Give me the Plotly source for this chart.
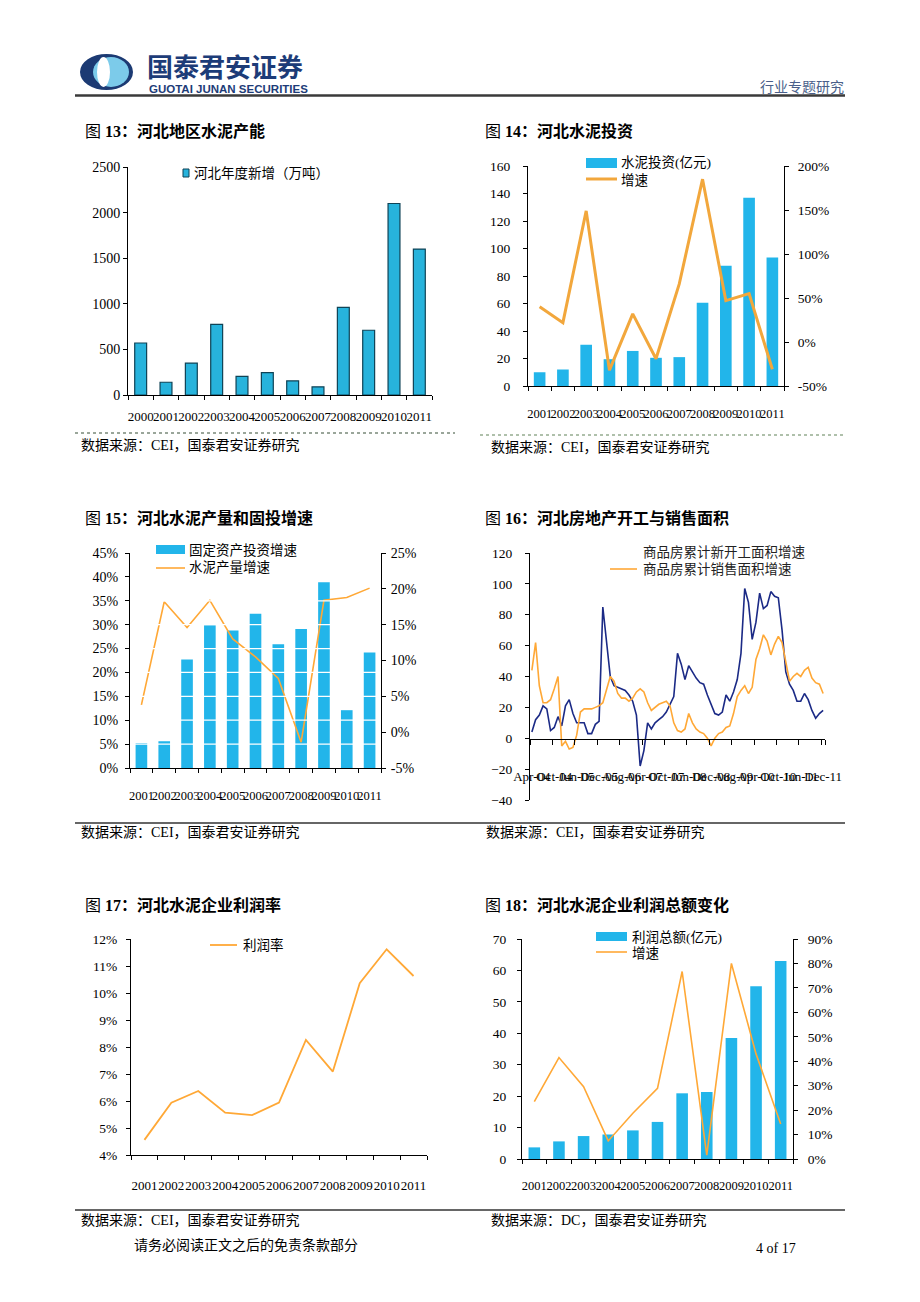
import plotly.graph_objects as go

# The page body keeps its default 8px margin, so the figure is sized to fit the
# 920x1302 window exactly and page coordinates are shifted by that margin.
OFF = 8
W, H = 920 - OFF, 1302 - OFF
SERIF = "Liberation Serif, Noto Sans CJK SC, serif"
CJK = "Noto Sans CJK SC, sans-serif"

def px(x):
    return (x - OFF) / W

def py(y):
    return 1 - (y - OFF) / H

# ---------------- data ----------------
years13 = ["2000", "2001", "2002", "2003", "2004", "2005", "2006", "2007", "2008", "2009", "2010", "2011"]
cap13 = [570, 140, 350, 775, 205, 245, 155, 90, 960, 710, 2100, 1600]

years11 = ["2001", "2002", "2003", "2004", "2005", "2006", "2007", "2008", "2009", "2010", "2011"]
inv14 = [10, 12, 30, 19.5, 25.5, 20.5, 21, 60.5, 87.5, 137, 93.5]
inv14_growth = [0.40, 0.22, 1.49, -0.32, 0.32, -0.19, 0.66, 1.85, 0.47, 0.55, -0.31]

fai15 = [0.052, 0.056, 0.227, 0.299, 0.288, 0.323, 0.259, 0.291, 0.389, 0.121, 0.242]
cement15 = [0.038, 0.182, 0.146, 0.184, 0.130, 0.105, 0.075, -0.014, 0.184, 0.188, 0.201]

month_names = ["Mar", "Apr", "May", "Jun", "Jul", "Aug", "Sep", "Oct", "Nov", "Dec"]
months16 = []
for yr in range(2004, 2012):
    for m in month_names:
        if yr == 2004 and m == "Mar":
            continue
        months16.append(f"{m}-{str(yr)[2:]}")
starts16 = [4, 12, 15, 21, 19, 5, 7, 14, 8, 21,
            25, 16, 10, 10, 10, 3, 3, 9, 11, 85,
            62, 40, 34, 33, 32, 31, 28, 24, 15, -18,
            -8, 10, 6, 10, 12, 14, 17, 22, 27, 55,
            48, 38, 47, 43, 39, 36, 35, 28, 22, 16,
            15, 17, 28, 24, 30, 38, 55, 97, 88, 64,
            75, 94, 84, 86, 95, 92, 91, 70, 43, 35,
            31, 24, 24, 29, 25, 18, 13, 16, 18]
sales16 = [44, 62, 34, 23, 23, 25, 32, 40, -5, -2,
           -7, -6, 2, 17, 19, 19, 19, 20, 21, 23,
           32, 40, 37, 29, 26, 26, 24, 26, 30, 32,
           30, 23, 18, 20, 22, 23, 24, 21, 10, 5,
           4, 6, 16, 10, 6, 4, 3, 0, -5, 0,
           3, 4, 7, 8, 16, 27, 31, 34, 29, 33,
           51, 58, 67, 63, 54, 61, 66, 62, 50, 37,
           40, 42, 40, 44, 46, 39, 36, 35, 29]

margin17 = [0.0456, 0.0594, 0.0637, 0.0557, 0.0548, 0.0594, 0.0826, 0.0709, 0.1036, 0.1162, 0.1063]

profit18 = [3.7, 5.6, 7.3, 7.8, 9.1, 11.8, 20.9, 21.3, 38.5, 55, 63]
profit18_growth = [0.235, 0.415, 0.296, 0.074, 0.187, 0.289, 0.767, 0.016, 0.80, 0.43, 0.143]

pct_ticks_14 = [-0.5, 0, 0.5, 1.0, 1.5, 2.0]
pct_text_14 = ["-50%", "0%", "50%", "100%", "150%", "200%"]
pct_ticks_15r = [-0.05, 0, 0.05, 0.10, 0.15, 0.20, 0.25]
pct_text_15r = ["-5%", "0%", "5%", "10%", "15%", "20%", "25%"]

BAR = "#22B5EA"
ORANGE = "#FFA836"
NAVY = "#1B2A86"

fig = go.Figure()

# chart 13
fig.add_trace(go.Bar(x=years13, y=cap13, xaxis="x", yaxis="y", width=0.47,
                     marker=dict(color="#27B3DC", line=dict(color="#0F4356", width=1.2)),
                     showlegend=False))
# chart 14
fig.add_trace(go.Bar(x=years11, y=inv14, xaxis="x2", yaxis="y2", width=0.5,
                     marker=dict(color=BAR, line=dict(width=0)), showlegend=False))
fig.add_trace(go.Scatter(x=years11, y=inv14_growth, xaxis="x2", yaxis="y3", mode="lines",
                         line=dict(color="#F2A73C", width=3), showlegend=False))
# chart 15
fig.add_trace(go.Bar(x=years11, y=fai15, xaxis="x3", yaxis="y4", width=0.51,
                     marker=dict(color=BAR, line=dict(width=0)), showlegend=False))
fig.add_trace(go.Scatter(x=years11, y=cement15, xaxis="x3", yaxis="y5", mode="lines",
                         line=dict(color=ORANGE, width=1.6), showlegend=False))
# chart 16
fig.add_trace(go.Scatter(x=months16, y=starts16, xaxis="x4", yaxis="y6", mode="lines",
                         line=dict(color=NAVY, width=1.6), showlegend=False))
fig.add_trace(go.Scatter(x=months16, y=sales16, xaxis="x4", yaxis="y6", mode="lines",
                         line=dict(color=ORANGE, width=1.6), showlegend=False))
# chart 17
fig.add_trace(go.Scatter(x=years11, y=margin17, xaxis="x5", yaxis="y7", mode="lines",
                         line=dict(color=ORANGE, width=1.8), showlegend=False))
# chart 18
fig.add_trace(go.Bar(x=years11, y=profit18, xaxis="x6", yaxis="y8", width=0.47,
                     marker=dict(color=BAR, line=dict(width=0)), showlegend=False))
fig.add_trace(go.Scatter(x=years11, y=profit18_growth, xaxis="x6", yaxis="y9", mode="lines",
                         line=dict(color=ORANGE, width=1.6), showlegend=False))


def ax(**kw):
    base = dict(showline=True, linecolor="black", linewidth=1, ticks="outside", ticklen=4,
                tickcolor="black", showgrid=False, zeroline=False, fixedrange=True, automargin=False,
                tickfont=dict(family=SERIF, size=13.5, color="black"))
    base.update(kw)
    return base


def xcat(domain, anchor, n, standoff, size=12.5, **kw):
    return ax(domain=[px(domain[0]), px(domain[1])], anchor=anchor, type="category",
              tickson="boundaries", tickangle=0, range=[-0.5, n - 0.5],
              ticklabelstandoff=standoff, tickfont=dict(family=SERIF, size=size, color="black"), **kw)


layout = dict(
    template="none",
    width=W, height=H, margin=dict(l=0, r=0, t=0, b=0, pad=0), autosize=False,
    paper_bgcolor="white", plot_bgcolor="rgba(0,0,0,0)", showlegend=False, bargap=0.5,
    # chart 13
    xaxis=xcat((128, 432), "y", 12, 9, size=13),
    yaxis=ax(domain=[py(395), py(167)], anchor="x", range=[0, 2500], dtick=500,
             tickfont=dict(family=SERIF, size=14, color="black")),
    # chart 14
    xaxis2=xcat((528, 784), "y2", 11, 16),
    yaxis2=ax(domain=[py(386), py(166)], anchor="x2", range=[0, 160], dtick=20, ticklabelstandoff=10),
    yaxis3=ax(overlaying="y2", side="right", anchor="x2", range=[-0.5, 2.0],
              tickvals=pct_ticks_14, ticktext=pct_text_14, ticklabelstandoff=6),
    # chart 15
    xaxis3=xcat((130, 381), "y4", 11, 16),
    yaxis4=ax(domain=[py(768), py(553)], anchor="x3", range=[0, 0.45], dtick=0.05, tickformat=".0%",
              ticklabelstandoff=4, tickfont=dict(family=SERIF, size=14, color="black")),
    yaxis5=ax(overlaying="y4", side="right", anchor="x3", range=[-0.05, 0.25],
              tickvals=pct_ticks_15r, ticktext=pct_text_15r, ticklabelstandoff=2,
              tickfont=dict(family=SERIF, size=14, color="black")),
    # chart 16
    xaxis4=ax(domain=[px(530), px(825)], anchor="free", position=py(739), type="category",
              tickson="boundaries", tickangle=0, range=[-0.5, len(months16) - 0.5],
              tickvals=months16[::6], ticktext=months16[::6], ticklen=5,
              ticklabelstandoff=25, tickfont=dict(family=SERIF, size=13, color="black")),
    yaxis6=ax(domain=[py(800), py(553)], anchor="x4", range=[-40, 120], dtick=20, ticklabelstandoff=10),
    # chart 17
    xaxis5=xcat((131, 427), "y7", 11, 18, size=13),
    yaxis7=ax(domain=[py(1155), py(939)], anchor="x5", range=[0.04, 0.12], dtick=0.01,
              tickformat=".0%", ticklabelstandoff=6),
    # chart 18
    xaxis6=xcat((522, 793), "y8", 11, 15),
    yaxis8=ax(domain=[py(1159), py(939)], anchor="x6", range=[0, 70], dtick=10, ticklabelstandoff=8),
    yaxis9=ax(overlaying="y8", side="right", anchor="x6", range=[0, 0.9], dtick=0.1,
              tickformat=".0%", ticklabelstandoff=7),
)
fig.update_layout(**layout)

ann = []
shapes = []


def txt(x, y, s, size=13.5, color="black", anchor="left", family=SERIF):
    ann.append(dict(x=px(x), y=py(y), xref="paper", yref="paper", text=s, showarrow=False,
                    xanchor=anchor, yanchor="middle", borderpad=0,
                    font=dict(size=size, color=color, family=family)))


def hline(x0, x1, y, color="black", width=1, dash="solid"):
    shapes.append(dict(type="line", xref="paper", yref="paper", x0=px(x0), x1=px(x1), y0=py(y), y1=py(y),
                       line=dict(color=color, width=width, dash=dash)))


def rect(x0, x1, y0, y1, fill, line_color=None, line_width=0):
    shapes.append(dict(type="rect", xref="paper", yref="paper", x0=px(x0), x1=px(x1), y0=py(y1), y1=py(y0),
                       fillcolor=fill, line=dict(color=line_color or fill, width=line_width)))


def ellipse(x0, x1, y0, y1, fill):
    shapes.append(dict(type="circle", xref="paper", yref="paper", x0=px(x0), x1=px(x1), y0=py(y1), y1=py(y0),
                       fillcolor=fill, line=dict(width=0)))


# header
ellipse(80, 133, 54, 90, "#1C3A73")
ellipse(93, 129, 57, 87, "#7CCBEA")
ellipse(97, 110, 57, 87, "#FFFFFF")
txt(146, 65, "<b>国泰君安证券</b>", size=26, color="#1D3C78", family=CJK)
txt(148, 89, "<b>GUOTAI JUNAN SECURITIES</b>", size=11.5, color="#1D3C78",
    family="Liberation Sans, Arial, sans-serif")
txt(759, 86, "行业专题研究", size=14, color="#4A5F8A", family=CJK)
hline(75, 845, 95.5, color="#3A3A3A", width=2.5)

# titles
TFONT = "Liberation Serif, Noto Sans CJK SC, serif"
txt(84, 131, "图 <b>13：河北地区水泥产能</b>", size=16, family=TFONT)
txt(484, 131, "图 <b>14：河北水泥投资</b>", size=16, family=TFONT)
txt(84, 518, "图 <b>15：河北水泥产量和固投增速</b>", size=16, family=TFONT)
txt(484, 518, "图 <b>16：河北房地产开工与销售面积</b>", size=16, family=TFONT)
txt(84, 905, "图 <b>17：河北水泥企业利润率</b>", size=16, family=TFONT)
txt(484, 905, "图 <b>18：河北水泥企业利润总额变化</b>", size=16, family=TFONT)

# legends
rect(183, 189, 169, 177, "#27B3DC", "#0F4356", 1)
txt(193, 173, "河北年度新增（万吨）", size=13.5)

rect(586, 617, 158, 168, BAR)
txt(620, 163, "水泥投资(亿元)", size=13.5)
hline(586, 617, 179, color="#F2A73C", width=3)
txt(620, 180, "增速", size=13.5)

rect(156, 185, 545, 554, BAR)
txt(188, 550, "固定资产投资增速", size=13.5)
hline(156, 185, 568, color=ORANGE, width=1.6)
txt(188, 568, "水泥产量增速", size=13.5)

txt(642, 552, "商品房累计新开工面积增速", size=13.5, color="#222")
hline(610, 637, 569, color=ORANGE, width=1.6)
txt(642, 569, "商品房累计销售面积增速", size=13.5, color="#222")

hline(210, 237, 945, color=ORANGE, width=1.8)
txt(242, 945, "利润率", size=13.5)

rect(596, 627, 932, 941, BAR)
txt(631, 937, "利润总额(亿元)", size=13.5)
hline(596, 627, 952, color=ORANGE, width=1.6)
txt(631, 953, "增速", size=13.5)

# white grid lines across chart 15 bars
for v in [0.05, 0.10, 0.15, 0.20, 0.25, 0.30, 0.35, 0.40]:
    shapes.append(dict(type="line", xref="x3 domain", yref="y4", x0=0, x1=1, y0=v, y1=v,
                       layer="above", line=dict(color="white", width=1.2)))

# separators and sources
hline(75, 455, 433, color="#9AA69A", width=2, dash="dot")
hline(480, 845, 435, color="#AFC0AB", width=2, dash="dot")
txt(80, 445, "数据来源：CEI，国泰君安证券研究", size=14)
txt(490, 447, "数据来源：CEI，国泰君安证券研究", size=14)

hline(75, 845, 823, color="#333333", width=1.5)
txt(80, 832, "数据来源：CEI，国泰君安证券研究", size=14)
txt(485, 832, "数据来源：CEI，国泰君安证券研究", size=14)

hline(75, 845, 1210, color="#333333", width=1.5)
txt(80, 1220, "数据来源：CEI，国泰君安证券研究", size=14)
txt(490, 1220, "数据来源：DC，国泰君安证券研究", size=14)

txt(133, 1245, "请务必阅读正文之后的免责条款部分", size=14)
txt(755, 1248, "4 of 17", size=14)

fig.update_layout(annotations=ann, shapes=shapes)
fig.write_html("out.html")
